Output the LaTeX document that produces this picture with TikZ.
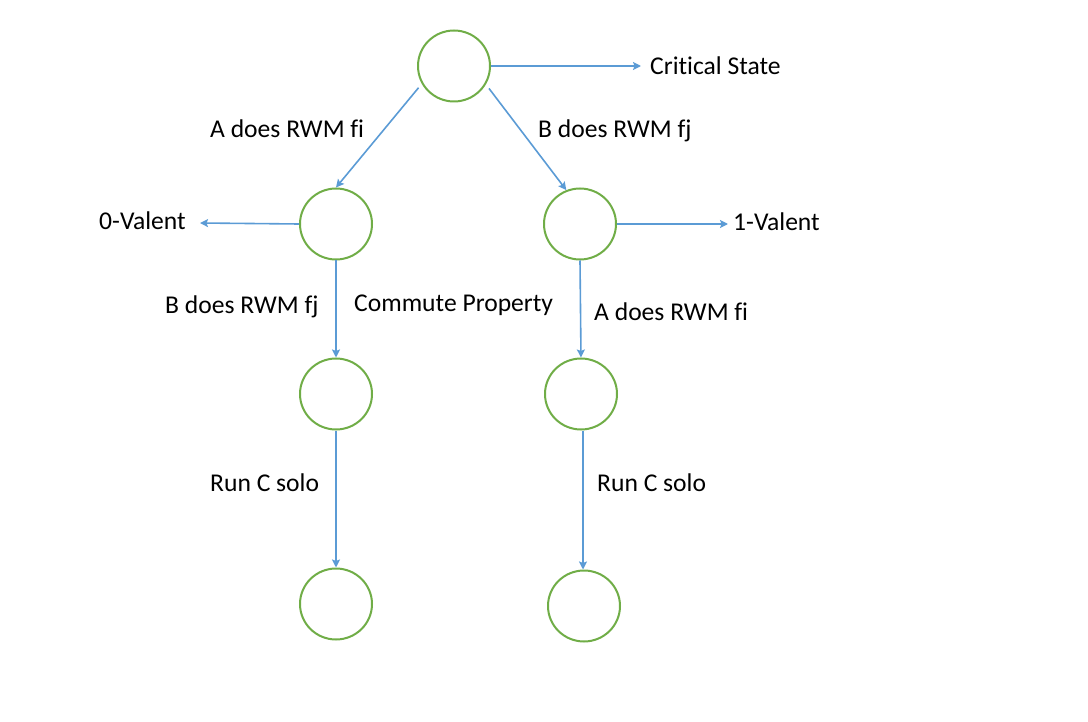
\documentclass[tikz,border=0pt]{standalone}
\usepackage{fontspec}
\setmainfont[Ligatures=CommonOff]{Carlito}
\usetikzlibrary{shapes.geometric,arrows.meta,calc}
\definecolor{stategreen}{HTML}{70AD47}
\definecolor{arrowblue}{HTML}{5B9BD5}
\tikzset{
  state/.style={ellipse,draw=stategreen,line width=2pt,minimum width=72pt,minimum height=71pt,inner sep=0pt},
  lbl/.style={anchor=base west,inner sep=0pt,font=\fontsize{25.6pt}{30pt}\selectfont},
  conn/.style={draw=arrowblue,line width=1.6pt,-{Stealth[length=8pt,width=8pt,inset=1.5pt]}}
}
\begin{document}
\begin{tikzpicture}[x=1pt,y=-1pt]
\useasboundingbox (0,0) rectangle (1088,722);
\node[state] (top) at (454,66) {};
\node[state] (L1) at (336,224) {};
\node[state] (R1) at (580,224) {};
\node[state] (L2) at (336,394) {};
\node[state] (R2) at (581,394) {};
\node[state] (L3) at (336,604) {};
\node[state] (R3) at (584,606) {};

\node[lbl] (crit) at (650,75) {Critical State};
\node[lbl] (zero) at (99,230) {0-Valent};
\node[lbl] (one) at (733,231) {1-Valent};
\node[lbl] (a1) at (210,138) {A does RWM fi};
\node[lbl] (b1) at (538,138) {B does RWM fj};
\node[lbl] (b2) at (165,314) {B does RWM fj};
\node[lbl] (comm) at (354,312) {Commute Property};
\node[lbl] (a2) at (594,320) {A does RWM fi};
\node[lbl] (c1) at (210,491) {Run C solo};
\node[lbl] (c2) at (597,491) {Run C solo};

\coordinate (critend) at (641,66);
\coordinate (zeroend) at (200,223);
\coordinate (oneend) at (728,224);

\draw[conn] (top.east) -- (critend);
\draw[conn] (L1.west) -- (zeroend);
\draw[conn] (R1.east) -- (oneend);
\draw[conn,shorten <=5pt] (top.209) -- (L1.north);
\draw[conn,shorten <=5pt] (top.330) -- (R1.112);
\draw[conn] (L1.south) -- (L2.north);
\draw[conn] (R1.south) -- (R2.north);
\draw[conn] ($(R2.south)+(2,0)$) -- ($(R3.north)+(-1,0)$);
\draw[conn] (L2.south) -- (L3.north);
\end{tikzpicture}
\end{document}
